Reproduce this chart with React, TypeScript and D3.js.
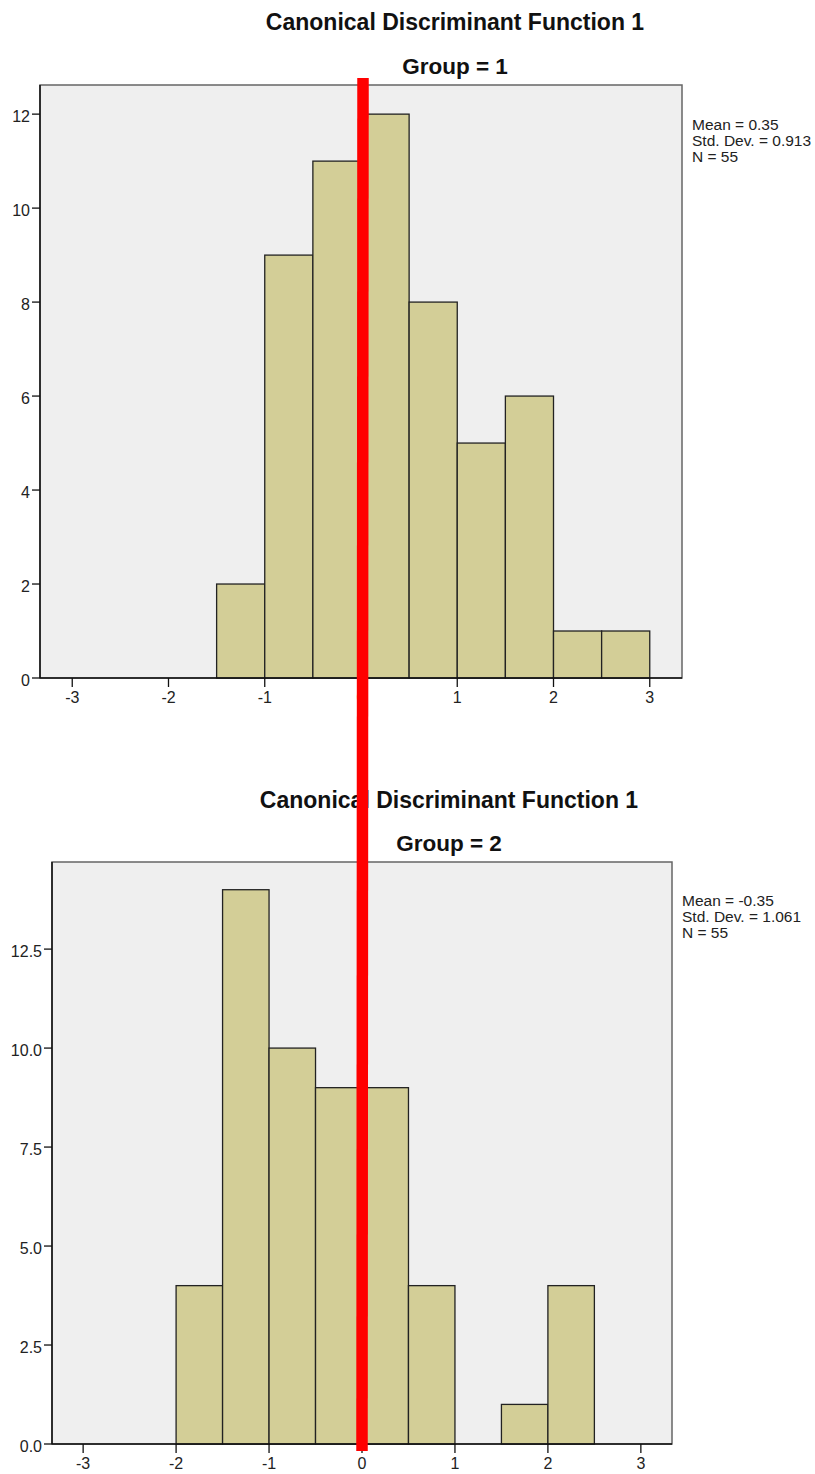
import React from "react";
import * as d3 from "d3";

const xTicks = [-3, -2, -1, 0, 1, 2, 3];
const binWidth = 0.5;

const binLower1 = [-1.5, -1, -0.5, 0, 0.5, 1, 1.5, 2, 2.5];
const counts1 = [2, 9, 11, 12, 8, 5, 6, 1, 1];
const yTicks1 = [0, 2, 4, 6, 8, 10, 12];
const yLabels1 = ["0", "2", "4", "6", "8", "10", "12"];
const stats1 = ["Mean = 0.35", "Std. Dev. = 0.913", "N = 55"];

const binLower2 = [-2, -1.5, -1, -0.5, 0, 0.5, 1.5, 2];
const counts2 = [4, 14, 10, 9, 9, 4, 1, 4];
const yTicks2 = [0, 2.5, 5, 7.5, 10, 12.5];
const yLabels2 = ["0.0", "2.5", "5.0", "7.5", "10.0", "12.5"];
const stats2 = ["Mean = -0.35", "Std. Dev. = 1.061", "N = 55"];

const FONT = "'Liberation Sans', Arial, sans-serif";

type PanelProps = {
  left: number; right: number; top: number; bottom: number;
  yMax: number; lowers: number[]; counts: number[];
  yTicks: number[]; yLabels: string[]; stats: string[];
  statsX: number; statsY: number;
  title: string; sub: string; titleX: number; titleY: number; subY: number;
};

function Panel(p: PanelProps) {
  const x = d3.scaleLinear().domain([-3.335, 3.335]).range([p.left, p.right]);
  const y = d3.scaleLinear().domain([0, p.yMax]).range([p.bottom, p.top]);
  return (
    <g>
      <text x={p.titleX} y={p.titleY} textAnchor="middle" fontFamily={FONT} fontWeight="bold" fontSize={23} fill="#111">{p.title}</text>
      <text x={p.titleX} y={p.subY} textAnchor="middle" fontFamily={FONT} fontWeight="bold" fontSize={22.5} fill="#111">{p.sub}</text>
      <rect x={p.left} y={p.top} width={p.right - p.left} height={p.bottom - p.top} fill="#efefef" stroke="#666" strokeWidth={1.5} />
      {p.counts.map((c, i) => (
        <rect key={i} x={x(p.lowers[i])} y={y(c)} width={x(p.lowers[i] + binWidth) - x(p.lowers[i])} height={y(0) - y(c)}
          fill="#d3ce97" stroke="#222" strokeWidth={1.3} />
      ))}
      <line x1={p.left} x2={p.left} y1={p.top} y2={p.bottom} stroke="#111" strokeWidth={1.5} />
      <line x1={p.left} x2={p.right} y1={p.bottom} y2={p.bottom} stroke="#111" strokeWidth={1.5} />
      {p.yTicks.map((t, i) => (
        <g key={"y" + i}>
          <line x1={p.left - 8} x2={p.left} y1={y(t)} y2={y(t)} stroke="#111" strokeWidth={1.3} />
          <text x={p.left - 10} y={y(t) + 8} textAnchor="end" fontFamily={FONT} fontSize={16} fill="#222">{p.yLabels[i]}</text>
        </g>
      ))}
      {xTicks.map((t) => (
        <g key={"x" + t}>
          <line x1={x(t)} x2={x(t)} y1={p.bottom} y2={p.bottom + 9} stroke="#111" strokeWidth={1.3} />
          <text x={x(t)} y={p.bottom + 25} textAnchor="middle" fontFamily={FONT} fontSize={16} fill="#222">{String(t)}</text>
        </g>
      ))}
      {p.stats.map((s, i) => (
        <text key={"s" + i} x={p.statsX} y={p.statsY + i * 16} fontFamily={FONT} fontSize={15.5} fill="#222">{s}</text>
      ))}
    </g>
  );
}

export default function App() {
  return (
    <svg width={815} height={1474} style={{ position: "absolute", left: 0, top: 0, background: "#fff" }}>
      <Panel left={40} right={682} top={85} bottom={678} yMax={12.62} lowers={binLower1} counts={counts1}
        yTicks={yTicks1} yLabels={yLabels1} stats={stats1} statsX={692} statsY={130}
        title="Canonical Discriminant Function 1" sub="Group = 1" titleX={455} titleY={30} subY={74} />
      <Panel left={52} right={672} top={862} bottom={1444} yMax={14.7} lowers={binLower2} counts={counts2}
        yTicks={yTicks2} yLabels={yLabels2} stats={stats2} statsX={682} statsY={906}
        title="Canonical Discriminant Function 1" sub="Group = 2" titleX={449} titleY={808} subY={851} />
      <line x1={363} y1={78} x2={362} y2={1451} stroke="#ff0000" strokeWidth={11.5} />
    </svg>
  );
}
